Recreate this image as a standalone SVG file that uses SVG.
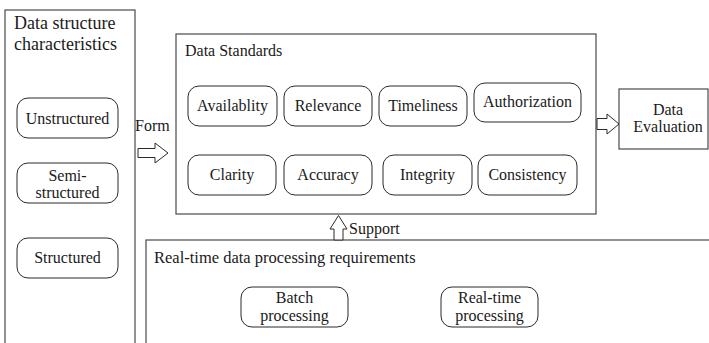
<svg xmlns="http://www.w3.org/2000/svg" width="709" height="343" viewBox="0 0 709 343">
<style>
.t{font-family:"Liberation Serif","Times New Roman",serif;font-size:16px;fill:#1a1a1a}
.tl{font-size:18px}
.c{text-anchor:middle}
.box{fill:#fff;stroke:#4a4a4a;stroke-width:1.2}
.n{fill:#fff;stroke:#2a2a2a;stroke-width:1}
.ar{fill:#fff;stroke:#2a2a2a;stroke-width:1;stroke-linejoin:miter}
</style>
<rect width="709" height="343" fill="#fff"/>
<g id="structure">
<rect class="box" x="5" y="10" width="130" height="345"/>
<text class="t tl" x="14" y="29">Data structure</text>
<text class="t tl" x="14" y="50">characteristics</text>
</g>
<g id="unstructured">
<rect class="n" x="17" y="98" width="101" height="40" rx="11"/>
<text class="t c" x="67.5" y="124">Unstructured</text>
</g>
<g id="semi">
<rect class="n" x="17" y="163" width="101" height="40" rx="11"/>
<text class="t c" x="67.5" y="181">Semi-</text>
<text class="t c" x="67.5" y="198">structured</text>
</g>
<g id="structured">
<rect class="n" x="17" y="238" width="101" height="40" rx="11"/>
<text class="t c" x="67.5" y="263">Structured</text>
</g>
<g id="standards">
<rect class="box" x="176" y="34" width="420" height="180"/>
<text class="t" x="185" y="56">Data Standards</text>
</g>
<g id="availability">
<rect class="n" x="188" y="86" width="89" height="40" rx="11"/>
<text class="t c" x="232.5" y="111">Availablity</text>
</g>
<g id="relevance">
<rect class="n" x="284" y="86" width="88" height="40" rx="11"/>
<text class="t c" x="328" y="111">Relevance</text>
</g>
<g id="timeliness">
<rect class="n" x="379" y="86" width="88" height="40" rx="11"/>
<text class="t c" x="423" y="111">Timeliness</text>
</g>
<g id="authorization">
<rect class="n" x="474" y="83" width="107" height="39" rx="11"/>
<text class="t c" x="527.5" y="107">Authorization</text>
</g>
<g id="clarity">
<rect class="n" x="188" y="155" width="88" height="40" rx="11"/>
<text class="t c" x="232" y="180">Clarity</text>
</g>
<g id="accuracy">
<rect class="n" x="284" y="155" width="88" height="40" rx="11"/>
<text class="t c" x="328" y="180">Accuracy</text>
</g>
<g id="integrity">
<rect class="n" x="383" y="155" width="89" height="40" rx="11"/>
<text class="t c" x="427.5" y="180">Integrity</text>
</g>
<g id="consistency">
<rect class="n" x="478" y="155" width="99" height="40" rx="11"/>
<text class="t c" x="527.5" y="180">Consistency</text>
</g>
<g id="evaluation">
<rect class="box" x="619" y="89" width="89" height="60"/>
<text class="t c" x="668" y="115">Data</text>
<text class="t c" x="668" y="132">Evaluation</text>
</g>
<g id="realtime">
<rect class="box" x="146" y="240" width="570" height="120"/>
<text class="t" x="154" y="263" style="font-size:16.5px">Real-time data processing requirements</text>
</g>
<g id="batch">
<rect class="n" x="241" y="287" width="107" height="40" rx="11"/>
<text class="t c" x="294.5" y="303">Batch</text>
<text class="t c" x="294.5" y="321">processing</text>
</g>
<g id="rtproc">
<rect class="n" x="441" y="287" width="97" height="40" rx="11"/>
<text class="t c" x="489.5" y="303">Real-time</text>
<text class="t c" x="489.5" y="321">processing</text>
</g>
<g id="connectors">
<polygon class="ar" points="138,148.5 155,148.5 155,143 168,153 155,163 155,157.5 138,157.5"/>
<text class="t" x="135" y="131">Form</text>
<polygon class="ar" points="597,118.5 607,118.5 607,114 619,124 607,134 607,129.5 597,129.5"/>
<polygon class="ar" points="334,240 334,229 330,229 338.5,215.5 347,229 343,229 343,240"/>
<text class="t" x="349" y="234">Support</text>
</g>
</svg>
